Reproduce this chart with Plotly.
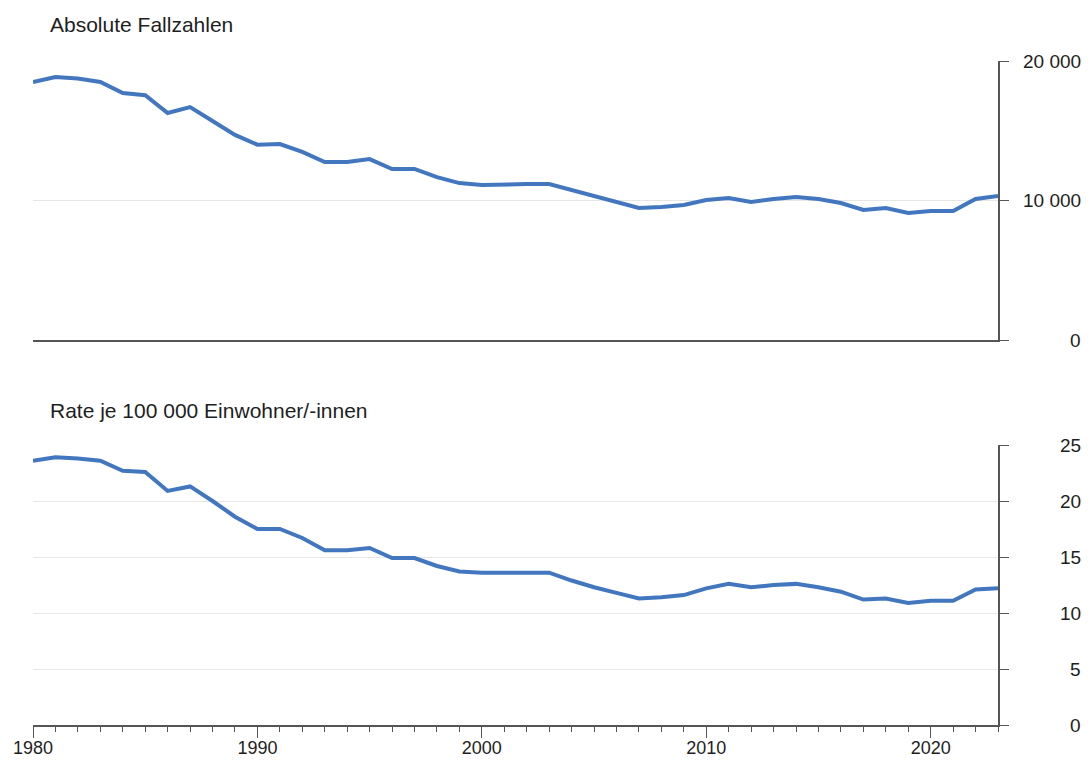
import plotly.graph_objects as go
from plotly.subplots import make_subplots

years = list(range(1980, 2024))
cases = [18500, 18850, 18750, 18500, 17700, 17550, 16270, 16700, 15700, 14700,
         14000, 14050, 13480, 12760, 12760, 12970, 12260, 12260, 11680, 11250,
         11110, 11180, 11180, 11180, 10750, 10250, 9820, 9460, 9530, 9680,
         10040, 10180, 9890, 10110, 10250, 10110, 9820, 9320, 9460, 9100,
         9250, 9250, 10110, 10320]
rate = [23.6, 23.9, 23.8, 23.6, 22.7, 22.6, 20.9, 21.3, 20.0, 18.6,
        17.5, 17.5, 16.7, 15.6, 15.6, 15.8, 14.9, 14.9, 14.2, 13.7,
        13.6, 13.6, 13.6, 13.6, 12.9, 12.3, 11.8, 11.3, 11.4, 11.6,
        12.2, 12.6, 12.3, 12.5, 12.6, 12.3, 11.9, 11.2, 11.3, 10.9,
        11.1, 11.1, 12.1, 12.2]
top_ticks = [0, 10000, 20000]
top_labels = ["0", "10 000", "20 000"]
bot_ticks = [0, 5, 10, 15, 20, 25]
bot_labels = ["0", "5", "10", "15", "20", "25"]
x_ticks = [1980, 1990, 2000, 2010, 2020]
titles = ["Absolute Fallzahlen", "Rate je 100 000 Einwohner/-innen"]

FONT = "Liberation Sans, Arial, Helvetica, sans-serif"
LINE = "#4277c0"
AX = "#555555"
GRID = "#e6e6e6"
TXT = "#1e1e1e"

fig = make_subplots(rows=2, cols=1, shared_xaxes=False, vertical_spacing=0.0)
fig.add_trace(go.Scatter(x=years, y=cases, mode="lines",
                         line=dict(color=LINE, width=4), showlegend=False), row=1, col=1)
fig.add_trace(go.Scatter(x=years, y=rate, mode="lines",
                         line=dict(color=LINE, width=4), showlegend=False), row=2, col=1)

W, H = 1091, 760
ml, mr, mt, mb = 33, 93, 61, 35
pw = W - ml - mr
ph = H - mt - mb

def dom(top_px, bot_px):
    return [(H - mb - bot_px) / ph, (H - mb - top_px) / ph]

fig.update_layout(
    width=W, height=H,
    margin=dict(l=ml, r=mr, t=mt, b=mb, autoexpand=False),
    plot_bgcolor="white", paper_bgcolor="white",
    font=dict(family=FONT, size=19, color=TXT),
    showlegend=False,
    xaxis=dict(domain=[0, 1], range=[1980, 2023], showticklabels=False, ticks="",
               showgrid=False, showline=True, linecolor=AX, linewidth=1.5,
               zeroline=False, anchor="y", automargin=False),
    yaxis=dict(domain=dom(61, 340), range=[0, 20000], side="right", anchor="x",
               tickvals=top_ticks, showticklabels=False, ticks="outside",
               ticklen=9, tickcolor=AX, tickwidth=1.2,
               showgrid=True, gridcolor=GRID, gridwidth=1.2,
               showline=True, linecolor=AX, linewidth=1.5, zeroline=False,
               automargin=False),
    xaxis2=dict(domain=[0, 1], range=[1980, 2023], tickvals=x_ticks,
                ticks="outside", ticklen=11, tickcolor=AX, tickwidth=1.2,
                minor=dict(dtick=1, tick0=1980, ticks="outside", ticklen=5,
                           tickcolor=AX, tickwidth=1),
                showgrid=False, showline=True, linecolor=AX, linewidth=1.5,
                zeroline=False, anchor="y2", tickfont=dict(size=18, color=TXT),
                ticklabelstandoff=-5, automargin=False),
    yaxis2=dict(domain=dom(445, 725), range=[0, 25], side="right", anchor="x2",
                tickvals=bot_ticks, showticklabels=False, ticks="outside",
                ticklen=9, tickcolor=AX, tickwidth=1.2,
                showgrid=True, gridcolor=GRID, gridwidth=1.2,
                showline=True, linecolor=AX, linewidth=1.5, zeroline=False,
                automargin=False),
)

# right-aligned tick labels
xr = (1083 - ml) / pw
for v, t in zip(top_ticks, top_labels):
    fig.add_annotation(x=xr, xref="paper", y=v, yref="y", text=t, showarrow=False,
                       xanchor="right", yanchor="middle", font=dict(size=19, color=TXT))
for v, t in zip(bot_ticks, bot_labels):
    fig.add_annotation(x=xr, xref="paper", y=v, yref="y2", text=t, showarrow=False,
                       xanchor="right", yanchor="middle", font=dict(size=19, color=TXT))

# panel titles
for ypx, t in zip([25, 410], titles):
    fig.add_annotation(x=(48 - ml) / pw, xref="paper", y=(H - mb - ypx) / ph,
                       yref="paper", text=t, showarrow=False, xanchor="left", yanchor="middle",
                       font=dict(size=21, color=TXT))

fig.write_html("out.html", config={"displayModeBar": False},
               post_script="document.body.style.margin='0';")
